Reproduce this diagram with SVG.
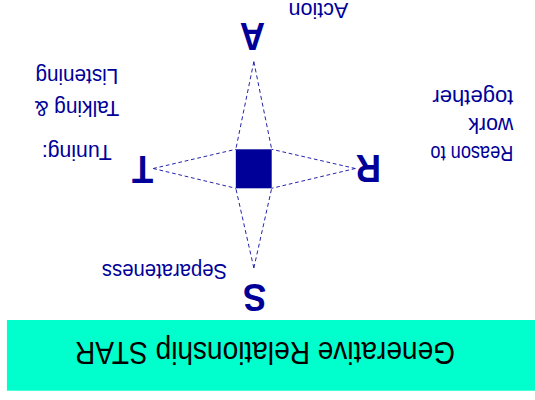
<svg xmlns="http://www.w3.org/2000/svg" width="535" height="400" viewBox="0 0 535 400">
<style>
.lbl{font-family:"Liberation Sans",Arial,sans-serif;font-size:22px;fill:#000099}
.big{font-family:"Liberation Sans",Arial,sans-serif;font-size:38px;font-weight:bold;fill:#000099;text-anchor:middle}
.ttl{font-family:"Liberation Sans",Arial,sans-serif;font-size:31px;fill:#000000;text-anchor:middle}
.dash{stroke:#1a1aa6;stroke-width:1;stroke-dasharray:4 3;fill:none}
</style>
<rect width="535" height="400" fill="#ffffff"/>
<g transform="matrix(-0.92,0,0,-1,535,400)">
  <g id="title">
    <rect x="0" y="9.3" width="574" height="70.7" fill="#00FFCC"/>
    <text class="ttl" x="293.5" y="58" textLength="413" lengthAdjust="spacingAndGlyphs">Generative Relationship STAR</text>
  </g>
  <g id="connectors">
    <path class="dash" d="M305.6,132 L286.2,211.7 M305.6,132 L325.2,211.7"/>
    <path class="dash" d="M305.6,338.3 L286.2,250.7 M305.6,338.3 L325.2,250.7"/>
    <path class="dash" d="M195.3,231.5 L286.2,211.7 M195.3,231.5 L286.2,250.7"/>
    <path class="dash" d="M415,231.5 L325.2,211.7 M415,231.5 L325.2,250.7"/>
  </g>
  <g id="center">
    <rect x="286.2" y="211.7" width="39" height="39" fill="#000099"/>
  </g>
  <g id="node-S">
    <text class="big" x="304.7" y="116.5">S</text>
    <text class="lbl" x="402.7" y="136" text-anchor="middle" textLength="136" lengthAdjust="spacingAndGlyphs">Separateness</text>
  </g>
  <g id="node-T">
    <text class="big" x="426.5" y="244">T</text>
    <text class="lbl" x="498" y="255" text-anchor="middle" textLength="76" lengthAdjust="spacingAndGlyphs">Tuning:</text>
    <text class="lbl" x="498" y="299" text-anchor="middle" textLength="92" lengthAdjust="spacingAndGlyphs">Talking &amp;</text>
    <text class="lbl" x="498" y="331" text-anchor="middle" textLength="90" lengthAdjust="spacingAndGlyphs">Listening</text>
  </g>
  <g id="node-A">
    <text class="big" x="307.3" y="377">A</text>
    <text class="lbl" x="235.5" y="396.7" text-anchor="middle" textLength="65" lengthAdjust="spacingAndGlyphs">Action</text>
  </g>
  <g id="node-R">
    <text class="big" x="181" y="245">R</text>
    <text class="lbl" x="23.6" y="254" textLength="90" lengthAdjust="spacingAndGlyphs">Reason to</text>
    <text class="lbl" x="23.6" y="282" textLength="49" lengthAdjust="spacingAndGlyphs">work</text>
    <text class="lbl" x="23.6" y="310.5" textLength="88" lengthAdjust="spacingAndGlyphs">together</text>
  </g>
</g>
</svg>
